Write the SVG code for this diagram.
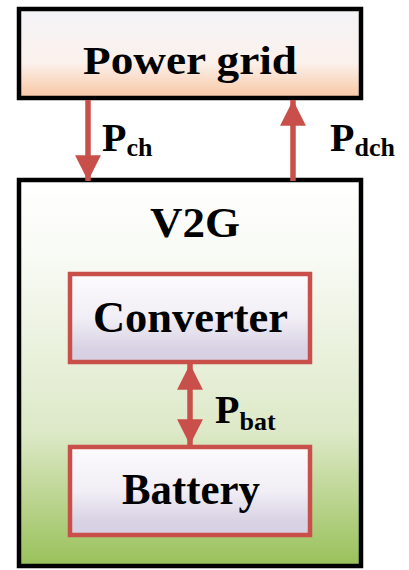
<svg xmlns="http://www.w3.org/2000/svg" width="409" height="570" viewBox="0 0 409 570">
<defs>
<linearGradient id="gGrid" x1="0" y1="0" x2="0" y2="1">
<stop offset="0" stop-color="#f3f3f7"/>
<stop offset="0.6" stop-color="#fbf1ec"/>
<stop offset="1" stop-color="#f8c6a2"/>
</linearGradient>
<linearGradient id="gV2G" x1="0" y1="0" x2="0" y2="1">
<stop offset="0" stop-color="#ffffff"/>
<stop offset="0.2" stop-color="#f8faf4"/>
<stop offset="0.65" stop-color="#dde9c8"/>
<stop offset="1" stop-color="#99c15a"/>
</linearGradient>
<linearGradient id="gSub" x1="0" y1="0" x2="0" y2="1">
<stop offset="0" stop-color="#fcfbfd"/>
<stop offset="0.5" stop-color="#f1eef5"/>
<stop offset="0.85" stop-color="#d8d2e4"/>
<stop offset="1" stop-color="#d6d0e2"/>
</linearGradient>
<marker id="ah" viewBox="0 0 10 10" refX="10" refY="5" markerWidth="4.7" markerHeight="4.7" markerUnits="strokeWidth" orient="auto-start-reverse">
<path d="M0,0 L10,5 L0,10 Z" fill="#c9504a"/>
</marker>
</defs>
<style>
.outer{stroke:#000;stroke-width:4.5}
.inner{stroke:#c9504a;stroke-width:4.5}
.t{font-family:"Liberation Serif","Times New Roman",serif;font-weight:bold;fill:#000}
.c{stroke:#c9504a;stroke-width:5.5;fill:none}
</style>
<g id="power-grid">
<rect class="outer" x="19" y="9" width="342" height="89" fill="url(#gGrid)"/>
<text class="t" x="190" y="74" font-size="41" text-anchor="middle" textLength="214" lengthAdjust="spacingAndGlyphs">Power grid</text>
</g>
<g id="v2g">
<rect class="outer" x="19" y="180" width="342" height="386" fill="url(#gV2G)"/>
<text class="t" x="195" y="237" font-size="42" text-anchor="middle" textLength="90" lengthAdjust="spacingAndGlyphs">V2G</text>
</g>
<g id="converter">
<rect class="inner" x="70" y="274" width="240" height="88" fill="url(#gSub)"/>
<text class="t" x="190.5" y="332" font-size="44" text-anchor="middle" textLength="195" lengthAdjust="spacingAndGlyphs">Converter</text>
</g>
<g id="battery">
<rect class="inner" x="70" y="447" width="240" height="88" fill="url(#gSub)"/>
<text class="t" x="191" y="504" font-size="44" text-anchor="middle" textLength="138" lengthAdjust="spacingAndGlyphs">Battery</text>
</g>
<g id="connectors">
<line class="c" x1="88" y1="100" x2="88" y2="181" marker-end="url(#ah)"/>
<line class="c" x1="293" y1="181" x2="293" y2="100" marker-end="url(#ah)"/>
<line class="c" x1="190" y1="364" x2="190" y2="445" marker-start="url(#ah)" marker-end="url(#ah)"/>
<text class="t" x="102" y="151" font-size="40">P<tspan font-size="26" dy="5">ch</tspan></text>
<text class="t" x="330" y="151" font-size="40">P<tspan font-size="26" dy="5">dch</tspan></text>
<text class="t" x="215" y="423" font-size="40">P<tspan font-size="26" dy="7">bat</tspan></text>
</g>
</svg>
